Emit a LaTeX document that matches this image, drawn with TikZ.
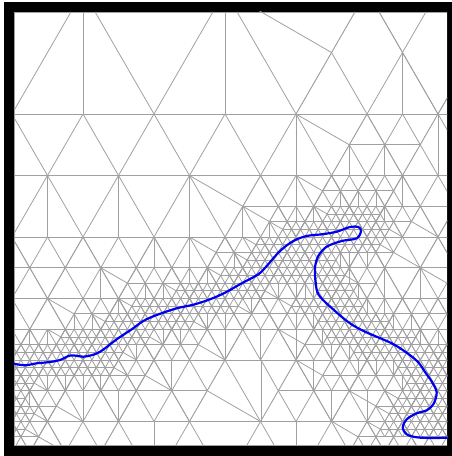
\documentclass[tikz,border=0pt]{standalone}
\usepackage{xcolor}
\definecolor{meshgray}{HTML}{A0A0A0}
\definecolor{curveblue}{HTML}{0000F0}
% lattice of one refinement level: width, row height, diagonals from..to, rows from..to
\newcommand{\meshlattice}[6]{%
  \foreach \i in {#3,...,#4} {\draw[meshline] (12+\i*#1-58.88,12)--(12+\i*#1+191.07,445) (12+\i*#1+58.88,12)--(12+\i*#1-191.07,445);}
  \foreach \j in {#5,...,#6} {\draw[meshline] (0,114+\j*#2)--(452,114+\j*#2);}
}
% bands of a level, each given by its middle row and the two ends of that row
\newcommand{\meshbands}[1]{%
  \clip \foreach \ya/\xa/\xb in {#1} {(\xa+\bandx,\ya-\bandy)--(\xb+\bandx,\ya-\bandy)--(\xb-\bandx,\ya+\bandy)--(\xa-\bandx,\ya+\bandy)--cycle};
}
\begin{document}
\begin{tikzpicture}[x=0.02cm,y=-0.02cm,meshline/.style={meshgray,line width=0.45pt}]
\useasboundingbox (0,0) rectangle (452,456);
\fill[black] (4,2) rectangle (452,456);
\fill[white] (14,12) rectangle (447,445);
\begin{scope}
\clip (14,12) rectangle (447,445);
\draw[meshline] (14,12) rectangle (447,445);
% coarsest triangles
\begin{scope}
\clip (-30,-30) rectangle (480,114);
\meshlattice{142}{123}{-2}{5}{0}{0}
\end{scope}
\begin{scope}
\clip (-30,114) rectangle (480,445) (296,114)--(367,-9)--(509,-9)--(509,114)--cycle;
\meshlattice{71}{61.5}{-3}{9}{0}{6}
\end{scope}
\begin{scope}
\clip (331.5,175.5)--(367,114)--(438,114)--(402.5,175.5)--cycle
  (260.5,175.5)--(510,175.5)--(510,237)--(225,237)--cycle
  (-30,237) rectangle (480,360)
  (-30,360)--(225,360)--(189.5,421.5)--(-30,421.5)--cycle
  (296,360)--(480,360)--(480,421.5)--(261,421.5)--cycle
  (-30,421.5)--(118.5,421.5)--(101,452)--(-30,452)--cycle
  (332,421.5)--(480,421.5)--(480,452)--(349.75,452)--cycle;
\meshlattice{35.5}{30.75}{-6}{18}{1}{11}
\end{scope}
\begin{scope}
\def\bandx{8.875}\def\bandy{15.375}
\meshbands{190.9/322.6/393.6,221.6/269.4/411.6,252.4/216.1/393.6,283.1/127.4/376,
  313.9/74.1/480,344.6/-30/198.4,344.6/304.9/480,375.4/-30/145.1,375.4/322.6/480,
  406.1/-30/56.4,406.1/376/480,436.9/-30/38.6,436.9/358.1/480}
\meshlattice{17.75}{15.375}{-11}{36}{5}{21}
\end{scope}
\begin{scope}
\def\bandx{4.4375}\def\bandy{7.6875}
\meshbands{213.9/327.06/380.3,229.3/282.7/389.2,244.7/256.06/380.3,260.1/247.2/335.9,
  275.4/220.6/344.8,290.8/176.2/264.9,290.8/318.2/353.7,306.2/131.8/238.3,306.2/291.6/362.6,
  321.6/105.2/193.9,321.6/318.2/389.2,336.9/60.8/149.6,336.9/327.06/415.8,
  352.3/-30/122.9,352.3/353.7/480,367.7/-30/114.06,367.7/398.06/480,383.1/-30/34.2,383.1/406.9/480,
  398.4/-30/25.3,398.4/398.06/480,413.8/-30/34.2,413.8/389.2/480,429.2/-30/25.3,429.2/380.3/480}
\meshlattice{8.875}{7.6875}{-22}{71}{13}{41}
\end{scope}
% vertical splits, row by row
\foreach \ya/\yb/\xlist in {12/114/{83,225},52.5/114/{402.5},114/175.5/{296,438},144.75/175.5/{349.25,384.75},
  175.5/237/{47.5,118.5,189.5},175.5/206.25/{296,402.5},206.25/237/{242.75},237/267.75/{154,189.5},
  267.75/298.5/{100.75,384.75,420.25},329.25/360/{225,260.5,296},360/390.75/{171.75,313.75},
  360/421.5/{261},390.75/421.5/{83,118.5,331.5,367},421.5/445/{154,296},
  190.9/206.25/{340.4,358.1,375.9},206.25/221.6/{296,313.75,384.75},221.6/237/{269.4},
  252.4/267.75/{233.9,340.3,349.25,367},267.75/283.1/{189.5,207.25,349.25},283.1/298.5/{145.1,162.9,278.25,296,304.9,313.75,358.1},
  298.5/313.9/{118.5,251.6,367,384.75},313.9/329.25/{74.1,91.9,207.25,225,296,313.75,393.6,411.4},
  329.25/344.6/{12,29.75,47.5,162.9,180.6,322.6,420.25,438},344.6/360/{136.25,331.5,349.25},
  360/375.4/{358.1,375.9,393.6},375.4/390.75/{47.5,65.25,83,100.75,402.5},390.75/406.1/{29.75}}
  {\foreach \xa in \xlist {\draw[meshline] (\xa,\ya)--(\xa,\yb);}}
% slanted splits at the ends of the bands
\foreach \xa/\ya/\xb/\yb in {331.5/52.5/225/-9,296/114/349.25/144.75,420.25/144.75/438/175.5,189.5/175.5/242.75/206.25,
  296/175.5/322.6/190.9,393.6/190.9/402.5/206.25,242.75/206.25/269.4/221.6,411.6/221.6/438/237,
  189.5/237/216.1/252.4,393.6/252.4/420.25/267.75,100.75/267.75/127.4/283.1,376/283.1/384.75/298.5,
  420.25/267.75/446.9/283.1,47.5/298.5/74.1/313.9,198.4/344.6/225/360,278.25/329.25/304.9/344.6,
  145.1/375.4/171.75/390.75,296/360/322.6/375.4,56.4/406.1/83/421.5,349.25/390.75/376/406.1,
  38.6/436.9/65.25/452,332/421.5/358.1/436.9,207.25/390.75/260.5/421.5,261/360/278.25/390.75,
  313.75/206.25/327.06/213.9,380.3/213.9/384.75/221.6,269.4/221.6/282.7/229.3,389.2/229.3/402.5/237,
  242.75/237/256.06/244.7,380.3/244.7/393.6/252.4,233.9/252.4/247.2/260.1,335.9/260.1/340.3/267.75,
  207.25/267.75/220.6/275.4,344.8/275.4/358.1/283.1,162.9/283.1/176.2/290.8,264.9/290.8/278.25/298.5,
  313.75/283.1/318.2/290.8,353.7/290.8/358.1/298.5,118.5/298.5/131.8/306.2,238.3/306.2/251.6/313.9,
  278.25/298.5/291.6/306.2,362.6/306.2/367/313.9,91.9/313.9/105.2/321.6,193.9/321.6/207.25/329.25,
  313.75/313.9/318.2/321.6,389.2/321.6/393.6/329.25,47.5/329.25/60.8/336.9,149.6/336.9/162.9/344.6,
  322.6/329.25/327.06/336.9,415.8/336.9/420.25/344.6,122.9/352.3/136.25/360,349.25/344.6/353.7/352.3,
  114.06/367.7/127.4/375.4,393.6/360/398.06/367.7,34.2/383.1/47.5/390.75,402.5/375.4/406.9/383.1,
  25.3/398.4/29.75/406.1,384.75/390.75/398.06/398.4,34.2/413.8/47.5/421.5,376/406.1/389.2/413.8,
  25.3/429.2/38.6/436.9,367/421.5/380.3/429.2}
  {\draw[meshline] (\xa,\ya)--(\xb,\yb);}
\end{scope}
% the front
\draw[curveblue,line width=1.25pt] plot[smooth,tension=0.55] coordinates {(14,363.7)(25,365.3)(36.7,363.3)(50,362)(60,360)(69.3,355.7)(76,355.7)(83.3,356.7)(93.3,354.7)(101.7,350.7)(116.7,339.3)(131.7,329.3)(143.3,321)(156.7,315)(176.7,308.3)(193.3,304.7)(210,299.3)(225,292.7)(241.7,283.3)(258.3,274.3)(266.7,266)(280,251)(293.3,241)(306.7,236)(321.7,234.3)(336.7,231.7)(350,227)(358.3,227)(361,231)(356.7,238.3)(341.7,241)(326.7,246.7)(318.3,256)(315,267.7)(315.7,282.7)(319,295.3)(335,311)(350,323.3)(365,331.7)(391.7,343.3)(407,353)(418,362)(425,372)(432,382)(436.7,392.7)(433.3,404.3)(426.7,410.3)(416.7,413.3)(406.7,419.3)(402.7,427.7)(406.7,434.3)(416.7,437.3)(431.7,438)(447,437.7)};
\end{tikzpicture}
\end{document}
